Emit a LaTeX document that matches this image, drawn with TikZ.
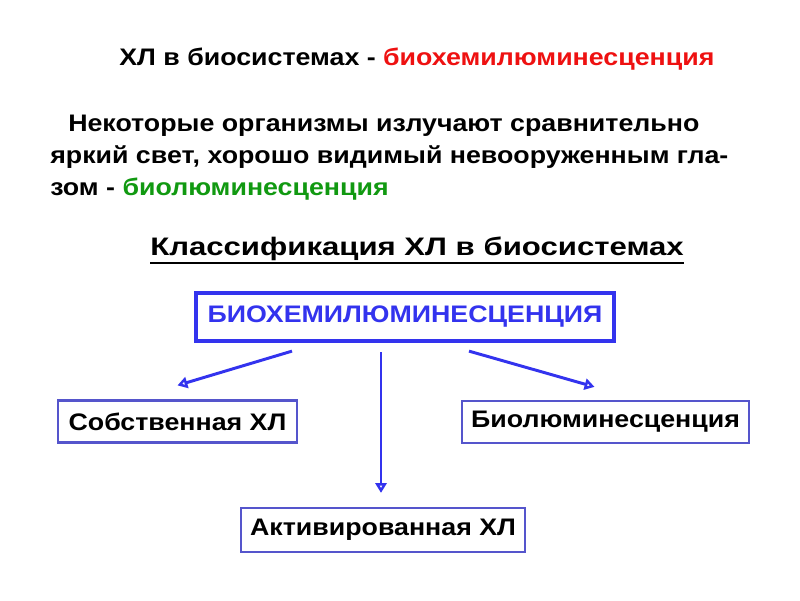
\documentclass[tikz,border=0pt]{standalone}
\usepackage{fontspec}
\setmainfont[FakeStretch=1.12]{Liberation Sans}
\newfontfamily\wideface[FakeStretch=1.23]{Liberation Sans}
\usetikzlibrary{arrows.meta}
\definecolor{boxblue}{HTML}{3333EE}
\definecolor{rimblue}{HTML}{5555CC}
\definecolor{hlred}{HTML}{EE1111}
\definecolor{hlgreen}{HTML}{119911}
\begin{document}
\begin{tikzpicture}[x=0.025cm,y=-0.025cm,
    txt/.style={anchor=base west,inner sep=0pt,font=\fontsize{17}{19}\selectfont\bfseries},
    topbox/.style={draw=boxblue,line width=3pt,text=boxblue,font=\fontsize{17}{19}\selectfont\bfseries,
      minimum width=418*0.025cm,minimum height=48*0.025cm,inner sep=0pt},
    kindbox/.style={draw=rimblue,line width=1.6pt,font=\fontsize{17}{19}\selectfont\bfseries,
      minimum height=42*0.025cm,inner sep=0pt},
    arr/.style={draw=boxblue,line width=2.1pt,-{Triangle[open,length=7pt,width=8pt]}}]
  \useasboundingbox (0,0) rectangle (800,600);
  \node[txt] (title) at (119,65) {ХЛ в биосистемах - \textcolor{hlred}{биохемилюминесценция}};
  \node[txt] (line1) at (68,131) {Некоторые организмы излучают сравнительно};
  \node[txt] (line2) at (50,163) {яркий свет, хорошо видимый невооруженным гла-};
  \node[txt] (line3) at (50,195) {зом - \textcolor{hlgreen}{биолюминесценция}};
  \node[txt,font=\fontsize{18}{20}\selectfont\wideface\bfseries] (class) at (150,255) {Классификация ХЛ в биосистемах};
  \draw[line width=1.8pt] ([shift={(0,8)}]class.base west) -- ([shift={(0,8)}]class.base east);
  \node[topbox] (bio) at (405,317) {БИОХЕМИЛЮМИНЕСЦЕНЦИЯ};
  \node[kindbox,minimum width=239*0.025cm] (own) at (177.5,421.5) {Собственная ХЛ};
  \node[kindbox,minimum width=287*0.025cm] (lum) at (605.5,422) {Биолюминесценция};
  \node[kindbox,minimum width=284*0.025cm,minimum height=44*0.025cm] (act) at (383,530) {Активированная ХЛ};
  \draw[arr] ([shift={(-113,8)}]bio.south) -- ([shift={(0,-14)}]own.north);
  \draw[arr] ([shift={(-24,9)}]bio.south) -- ([shift={(-2,-14)}]act.north);
  \draw[arr] ([shift={(64,8)}]bio.south) -- ([shift={(-11,-13)}]lum.north);
\end{tikzpicture}
\end{document}
